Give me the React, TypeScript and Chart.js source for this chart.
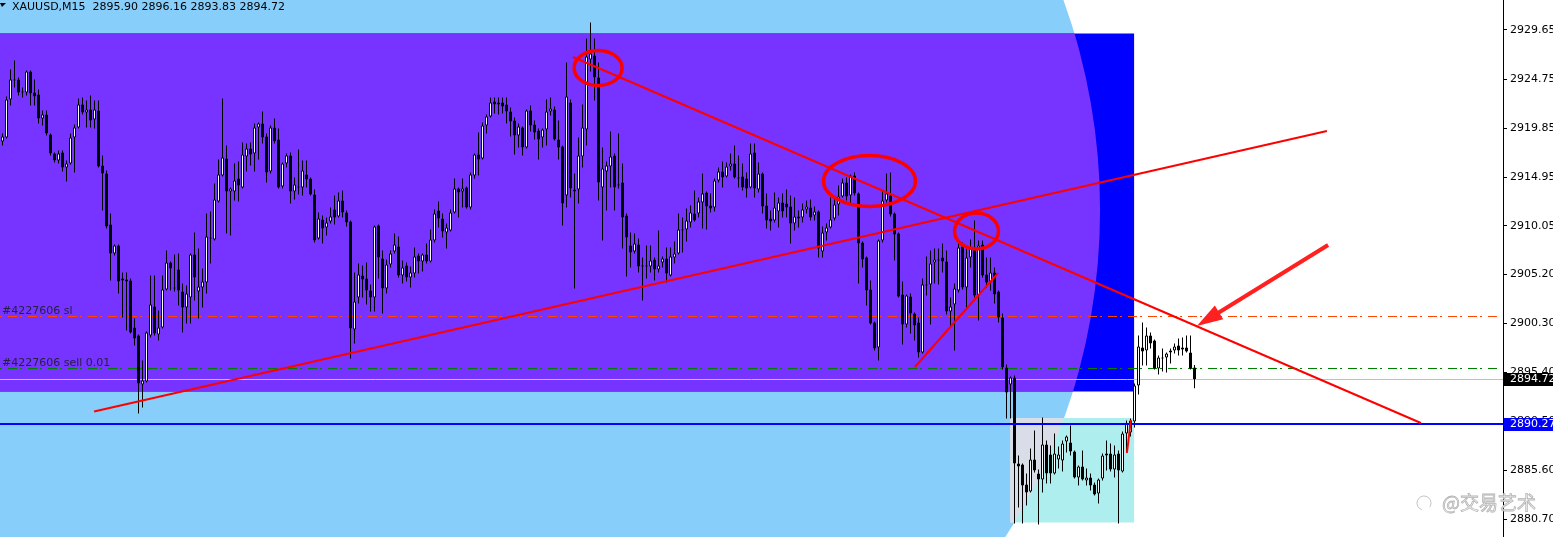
import { useEffect, useRef } from 'react';
import { Chart, registerables } from 'chart.js';

Chart.register(...registerables);

// ---- M15 candles (XAUUSD) ----
const OPEN = [
  2918.5, 2918.9, 2922.7, 2924.7, 2924.7, 2923.4, 2923.4, 2925.5, 2923.4, 2923.2,
  2920.8, 2921.2, 2919.2, 2917.3, 2916.6, 2917.4, 2915.9, 2916.3, 2918.9, 2919.9,
  2922.2, 2921.4, 2921.7, 2920.7, 2921.6, 2916.1, 2915.3, 2910.2, 2907.3, 2908.1,
  2904.8, 2904.7, 2904.6, 2899.9, 2899.1, 2894.2, 2894.5, 2899.1, 2902.0, 2899.2,
  2899.9, 2903.7, 2906.4, 2903.9, 2905.7, 2903.5, 2901.9, 2902.9, 2907.2, 2903.5,
  2903.9, 2904.4, 2908.9, 2908.7, 2912.5, 2915.1, 2916.8, 2913.5, 2913.5, 2914.8,
  2913.9, 2917.0, 2917.8, 2917.3, 2919.9, 2920.3, 2919.0, 2915.5, 2919.9, 2918.7,
  2914.0, 2916.3, 2917.1, 2913.5, 2914.0, 2913.9, 2915.2, 2914.8, 2913.2, 2908.8,
  2910.7, 2909.9, 2910.5, 2911.7, 2911.0, 2912.6, 2911.4, 2910.5, 2899.7, 2902.9,
  2905.1, 2904.8, 2903.6, 2902.9, 2910.1, 2906.8, 2903.8, 2906.2, 2907.5, 2908.0,
  2905.1, 2906.1, 2904.9, 2905.3, 2907.1, 2906.5, 2907.2, 2906.5, 2908.6, 2911.6,
  2910.8, 2909.4, 2909.6, 2911.4, 2913.8, 2913.5, 2913.9, 2911.9, 2915.1, 2917.2,
  2916.8, 2920.1, 2921.0, 2922.5, 2922.4, 2922.4, 2922.2, 2921.5, 2920.6, 2919.1,
  2919.9, 2917.9, 2921.6, 2920.2, 2919.6, 2918.9, 2919.7, 2921.5, 2921.7, 2918.7,
  2918.0, 2913.1, 2922.4, 2913.7, 2913.7, 2917.0, 2919.7, 2926.7, 2927.1, 2924.9,
  2913.9, 2915.5, 2916.0, 2917.1, 2914.2, 2914.4, 2911.1, 2908.1, 2907.5, 2908.2,
  2906.1, 2906.1, 2906.0, 2906.7, 2905.7, 2906.4, 2906.8, 2905.1, 2906.9, 2907.3,
  2909.7, 2909.7, 2910.4, 2911.3, 2911.3, 2912.4, 2913.4, 2912.1, 2911.9, 2914.6,
  2915.5, 2915.0, 2916.0, 2916.3, 2914.9, 2915.0, 2914.8, 2913.9, 2917.4, 2913.7,
  2915.3, 2912.1, 2910.8, 2910.6, 2911.5, 2912.4, 2912.3, 2912.0, 2910.3, 2911.0,
  2910.9, 2911.7, 2911.9, 2911.1, 2911.5, 2907.5, 2909.4, 2909.9, 2910.8, 2912.2,
  2913.0, 2914.4, 2913.1, 2915.1, 2913.3, 2908.4, 2906.9, 2903.7, 2900.4, 2897.9,
  2908.6, 2912.6, 2913.1, 2911.3, 2909.3, 2903.2, 2900.2, 2903.0, 2901.3, 2900.4,
  2897.4, 2904.2, 2904.2, 2906.4, 2906.7, 2906.9, 2906.5, 2901.5, 2902.2, 2903.6,
  2908.0, 2903.9, 2906.9, 2907.9, 2903.1, 2908.2, 2905.2, 2904.4, 2905.4, 2903.5,
  2900.9, 2895.9, 2894.2, 2894.9, 2886.3, 2886.2, 2884.2, 2883.5, 2886.7, 2885.3,
  2884.7, 2888.2, 2887.2, 2885.3, 2886.7, 2886.6, 2888.5, 2888.4, 2887.5, 2884.9,
  2886.0, 2884.6, 2884.9, 2884.2, 2883.3, 2884.8, 2887.3, 2887.3, 2885.7, 2887.3,
  2885.5, 2889.3, 2889.4, 2890.5, 2894.1, 2897.9, 2897.6, 2899.1, 2898.6, 2895.8,
  2896.8, 2896.9, 2897.4, 2897.6, 2898.1, 2897.7, 2897.9, 2897.4, 2895.90,
];
const HIGH = [
  2919.3, 2923.0, 2925.7, 2926.6, 2924.9, 2923.9, 2925.6, 2925.6, 2924.7, 2923.7,
  2921.6, 2921.6, 2919.3, 2917.4, 2917.6, 2917.6, 2916.6, 2919.3, 2920.2, 2922.8,
  2922.9, 2922.6, 2923.1, 2922.6, 2922.6, 2917.1, 2915.6, 2911.3, 2908.2, 2908.2,
  2905.4, 2905.4, 2904.8, 2900.8, 2899.2, 2896.6, 2899.5, 2905.1, 2905.1, 2901.6,
  2905.1, 2907.6, 2906.5, 2907.2, 2907.3, 2904.3, 2904.1, 2907.3, 2909.4, 2907.8,
  2905.8, 2911.3, 2911.5, 2914.3, 2916.7, 2922.8, 2918.1, 2913.9, 2916.3, 2916.5,
  2918.4, 2918.3, 2918.4, 2920.3, 2920.4, 2921.5, 2919.3, 2920.1, 2920.8, 2919.8,
  2916.4, 2917.3, 2917.4, 2914.9, 2917.7, 2916.6, 2916.6, 2914.9, 2913.7, 2911.4,
  2911.1, 2910.9, 2911.9, 2913.1, 2913.4, 2913.6, 2911.6, 2910.6, 2905.4, 2906.3,
  2906.1, 2906.4, 2904.2, 2910.1, 2910.2, 2907.6, 2906.7, 2907.6, 2909.3, 2909.0,
  2906.6, 2906.4, 2906.0, 2907.9, 2907.3, 2907.3, 2908.3, 2909.7, 2911.7, 2912.5,
  2911.3, 2910.3, 2911.7, 2914.8, 2913.9, 2914.8, 2914.0, 2915.4, 2917.3, 2919.4,
  2920.4, 2921.2, 2922.9, 2922.9, 2922.9, 2922.9, 2922.9, 2921.9, 2920.9, 2920.3,
  2920.0, 2921.7, 2922.1, 2920.6, 2919.8, 2919.8, 2922.7, 2922.9, 2922.0, 2920.6,
  2918.1, 2926.4, 2922.7, 2915.3, 2918.9, 2922.2, 2928.8, 2930.4, 2928.8, 2926.4,
  2917.9, 2916.5, 2919.5, 2917.3, 2919.3, 2916.3, 2911.3, 2909.4, 2909.3, 2908.8,
  2906.9, 2908.1, 2908.1, 2906.9, 2909.6, 2907.0, 2907.9, 2907.9, 2908.5, 2911.3,
  2910.9, 2911.8, 2912.1, 2913.6, 2912.9, 2915.3, 2913.5, 2913.3, 2914.8, 2915.9,
  2916.5, 2916.4, 2917.3, 2918.1, 2917.1, 2916.3, 2915.4, 2918.3, 2918.3, 2916.4,
  2915.4, 2913.3, 2911.6, 2913.4, 2912.9, 2913.3, 2913.7, 2913.1, 2912.9, 2911.6,
  2912.3, 2912.6, 2912.7, 2912.0, 2911.6, 2910.0, 2910.3, 2912.9, 2912.9, 2914.1,
  2914.8, 2914.9, 2915.2, 2915.4, 2913.4, 2908.5, 2907.0, 2904.6, 2900.5, 2908.7,
  2913.6, 2915.3, 2915.4, 2911.4, 2909.4, 2904.5, 2903.2, 2903.3, 2901.4, 2900.9,
  2904.8, 2907.0, 2907.6, 2907.8, 2907.8, 2908.3, 2907.6, 2902.9, 2904.3, 2908.3,
  2908.4, 2907.8, 2908.7, 2910.6, 2908.6, 2908.6, 2906.9, 2906.9, 2905.9, 2903.6,
  2901.3, 2896.2, 2895.0, 2895.1, 2887.1, 2886.3, 2885.3, 2887.8, 2889.6, 2885.7,
  2890.9, 2888.6, 2888.1, 2889.3, 2888.0, 2888.6, 2889.1, 2890.1, 2887.6, 2886.1,
  2887.6, 2885.8, 2885.3, 2884.4, 2884.8, 2887.3, 2888.6, 2888.3, 2888.1, 2887.6,
  2889.5, 2890.6, 2890.8, 2894.3, 2899.1, 2900.4, 2899.9, 2899.4, 2898.7, 2897.1,
  2897.8, 2897.4, 2897.8, 2898.3, 2898.8, 2898.9, 2899.1, 2899.1, 2896.16,
];
const LOW = [
  2918.1, 2918.8, 2922.1, 2923.9, 2923.1, 2922.9, 2923.1, 2922.1, 2922.1, 2920.3,
  2920.1, 2919.1, 2917.1, 2916.4, 2916.3, 2915.5, 2914.5, 2916.2, 2915.4, 2919.8,
  2921.2, 2919.9, 2919.9, 2919.8, 2915.9, 2911.6, 2909.8, 2904.6, 2907.1, 2903.3,
  2900.9, 2899.6, 2899.3, 2898.1, 2891.3, 2891.9, 2894.4, 2898.9, 2899.1, 2898.6,
  2899.8, 2903.6, 2903.6, 2903.5, 2902.1, 2899.4, 2900.3, 2900.3, 2902.6, 2900.8,
  2901.9, 2903.3, 2906.3, 2908.6, 2912.4, 2915.0, 2909.3, 2909.1, 2912.6, 2912.5,
  2913.8, 2915.5, 2916.1, 2915.5, 2916.7, 2918.3, 2914.4, 2915.3, 2918.3, 2913.8,
  2913.8, 2915.9, 2912.3, 2912.7, 2913.2, 2913.1, 2913.9, 2913.1, 2908.4, 2908.7,
  2908.3, 2909.1, 2910.3, 2910.2, 2910.9, 2910.9, 2910.0, 2896.8, 2898.3, 2902.3,
  2902.9, 2902.2, 2901.5, 2901.5, 2904.8, 2901.3, 2903.3, 2905.9, 2907.3, 2904.9,
  2904.3, 2904.5, 2903.9, 2904.9, 2905.3, 2905.5, 2906.3, 2906.4, 2908.4, 2909.9,
  2908.9, 2907.8, 2909.5, 2911.3, 2910.9, 2911.9, 2911.8, 2911.7, 2914.8, 2915.1,
  2916.7, 2919.3, 2920.9, 2921.3, 2921.2, 2921.3, 2920.3, 2919.0, 2917.2, 2917.9,
  2917.1, 2917.8, 2919.5, 2918.7, 2916.7, 2917.9, 2918.1, 2921.1, 2918.6, 2916.7,
  2910.1, 2911.9, 2912.9, 2903.8, 2912.3, 2915.9, 2918.1, 2925.5, 2922.6, 2912.6,
  2908.6, 2911.6, 2913.9, 2911.6, 2913.8, 2907.8, 2905.0, 2905.9, 2907.3, 2905.4,
  2902.6, 2904.8, 2905.4, 2904.6, 2905.4, 2905.9, 2904.4, 2905.0, 2906.3, 2907.2,
  2907.4, 2908.5, 2909.9, 2910.5, 2910.9, 2909.8, 2909.7, 2911.4, 2911.5, 2914.4,
  2913.9, 2914.9, 2915.6, 2914.8, 2913.9, 2913.6, 2912.9, 2913.8, 2912.9, 2913.4,
  2911.3, 2909.8, 2909.6, 2910.4, 2909.9, 2910.9, 2910.9, 2908.3, 2909.6, 2909.9,
  2910.4, 2911.3, 2910.6, 2910.6, 2906.9, 2906.9, 2908.6, 2909.8, 2910.6, 2911.1,
  2912.9, 2912.6, 2912.3, 2913.1, 2904.3, 2905.9, 2902.1, 2900.2, 2897.6, 2896.6,
  2908.4, 2912.4, 2911.0, 2906.6, 2902.9, 2898.2, 2899.9, 2899.3, 2898.6, 2896.9,
  2897.3, 2903.1, 2900.2, 2904.3, 2904.2, 2905.4, 2901.2, 2899.9, 2897.6, 2903.4,
  2903.7, 2901.9, 2905.9, 2902.9, 2900.6, 2904.9, 2903.9, 2903.6, 2902.3, 2900.4,
  2895.7, 2890.8, 2890.8, 2880.3, 2881.9, 2880.3, 2882.1, 2883.4, 2885.4, 2880.2,
  2883.4, 2884.3, 2884.3, 2885.2, 2885.8, 2885.5, 2887.4, 2887.1, 2884.8, 2884.1,
  2884.6, 2884.1, 2883.6, 2883.1, 2882.3, 2884.6, 2885.6, 2885.5, 2884.9, 2880.3,
  2885.4, 2887.4, 2889.0, 2889.9, 2893.2, 2896.1, 2896.1, 2897.8, 2895.7, 2895.2,
  2895.5, 2895.4, 2896.3, 2897.3, 2897.1, 2897.1, 2897.4, 2895.7, 2893.83,
];
const CLOSE = [
  2919.0, 2922.7, 2924.7, 2924.6, 2923.4, 2923.5, 2925.5, 2923.3, 2923.0, 2920.8,
  2921.2, 2919.3, 2917.3, 2916.6, 2917.3, 2915.9, 2916.3, 2918.9, 2919.9, 2922.2,
  2921.4, 2921.7, 2920.6, 2921.7, 2916.0, 2915.3, 2910.0, 2907.3, 2908.1, 2904.5,
  2904.6, 2904.5, 2899.4, 2898.8, 2894.3, 2894.6, 2899.4, 2902.2, 2899.3, 2899.9,
  2903.7, 2906.4, 2905.8, 2903.8, 2903.6, 2901.9, 2903.3, 2907.2, 2904.9, 2904.0,
  2904.5, 2909.0, 2908.8, 2912.7, 2915.2, 2916.9, 2913.5, 2913.8, 2914.6, 2914.1,
  2917.2, 2917.8, 2917.2, 2919.9, 2920.3, 2918.9, 2915.4, 2919.9, 2918.5, 2913.9,
  2916.3, 2917.1, 2913.5, 2914.2, 2913.9, 2915.6, 2914.7, 2913.2, 2908.6, 2910.8,
  2909.8, 2910.4, 2911.0, 2910.9, 2912.6, 2911.4, 2910.4, 2899.8, 2902.5, 2905.2,
  2904.7, 2903.6, 2902.9, 2910.0, 2906.9, 2903.8, 2906.2, 2907.3, 2908.2, 2905.1,
  2905.9, 2904.9, 2905.4, 2907.0, 2906.5, 2907.2, 2906.5, 2908.7, 2911.3, 2910.8,
  2909.5, 2909.9, 2911.4, 2913.8, 2913.4, 2913.8, 2911.9, 2915.2, 2917.2, 2916.7,
  2920.1, 2921.0, 2922.4, 2922.2, 2922.2, 2922.0, 2921.5, 2920.5, 2919.1, 2920.0,
  2917.9, 2921.6, 2920.1, 2919.4, 2918.7, 2919.7, 2921.5, 2921.8, 2918.7, 2917.9,
  2912.3, 2923.0, 2913.8, 2913.5, 2917.1, 2919.9, 2927.0, 2927.3, 2924.9, 2914.4,
  2915.8, 2916.1, 2917.0, 2913.9, 2914.1, 2910.9, 2908.9, 2907.4, 2908.3, 2906.0,
  2906.0, 2906.0, 2906.6, 2905.7, 2906.1, 2906.8, 2905.3, 2907.0, 2907.3, 2909.7,
  2909.6, 2910.6, 2911.4, 2910.6, 2912.5, 2913.3, 2912.0, 2911.8, 2914.6, 2915.5,
  2914.9, 2916.0, 2916.3, 2914.9, 2914.8, 2913.9, 2913.8, 2917.3, 2913.8, 2915.3,
  2912.0, 2910.6, 2910.5, 2911.9, 2912.4, 2911.5, 2911.9, 2910.3, 2911.0, 2910.8,
  2911.7, 2912.0, 2910.9, 2911.5, 2907.8, 2909.4, 2909.9, 2910.7, 2912.2, 2913.0,
  2914.4, 2913.0, 2915.1, 2913.3, 2908.3, 2906.7, 2903.6, 2900.3, 2897.8, 2908.6,
  2912.6, 2913.3, 2911.2, 2909.2, 2903.0, 2900.2, 2903.1, 2901.3, 2900.1, 2897.4,
  2904.2, 2904.1, 2906.3, 2906.7, 2906.6, 2906.5, 2901.5, 2902.0, 2903.8, 2907.9,
  2903.9, 2906.9, 2907.9, 2903.1, 2908.1, 2905.1, 2904.4, 2905.4, 2903.2, 2900.9,
  2895.9, 2893.4, 2894.9, 2886.3, 2886.0, 2884.1, 2883.4, 2886.7, 2885.6, 2884.7,
  2888.2, 2885.3, 2885.3, 2887.3, 2887.2, 2888.3, 2889.0, 2887.5, 2884.9, 2886.0,
  2884.7, 2884.9, 2884.1, 2883.2, 2884.7, 2887.1, 2887.1, 2885.7, 2887.2, 2885.6,
  2889.3, 2890.3, 2890.6, 2894.1, 2898.0, 2897.5, 2899.1, 2898.3, 2895.8, 2896.9,
  2896.9, 2897.3, 2897.6, 2898.0, 2897.6, 2897.9, 2897.5, 2895.8, 2894.72,
];

// ---- axis ----
const Y_TICKS = [2929.65, 2924.75, 2919.85, 2914.95, 2910.05, 2905.2, 2900.3, 2895.4, 2890.5, 2885.6, 2880.7];
const Y_MIN = 2878.95;
const Y_MAX = 2932.65;
const X_MIN = -0.625;
const X_MAX = 375.125;

// ---- header / levels ----
const SYMBOL = 'XAUUSD,M15';
const LAST_OHLC = ['2895.90', '2896.16', '2893.83', '2894.72'];
const BID_PRICE = 2894.72;
const BLUE_LEVEL = 2890.27;
const SL_PRICE = 2901.05;
const ENTRY_PRICE = 2895.85;
const SL_LABEL = '#4227606 sl';
const ENTRY_LABEL = '#4227606 sell 0.01';
const WATERMARK = '@交易艺术';

// ---- drawing objects (candle index, price) ----
const SKY_SHAPE = { idx: 153.9, price: 2911.65, rIdx: 120.5, rPrice: 54.9 };
const ZONE_BOX = { from: -2, to: 282.9, top: 2929.3, bottom: 2893.5 };
const LOW_BOX = { from: 251.9, to: 282.9, top: 2890.85, bottom: 2880.4 };
const TREND_LINES = [
  [[22.9, 2891.5], [331.1, 2919.55]],
  [[142.6, 2926.95], [354.6, 2890.35]],
  [[228.1, 2895.95], [248.9, 2905.35]],
  [[281.1, 2887.35], [282.1, 2890.65]],
];
const RINGS = [
  { idx: 148.9, price: 2925.85, rIdx: 6, rPrice: 1.75 },
  { idx: 216.75, price: 2914.55, rIdx: 11.5, rPrice: 2.55 },
  { idx: 243.5, price: 2909.55, rIdx: 5.5, rPrice: 1.8 },
];
const ARROW = { from: [331.4, 2908.15], to: [298.6, 2900.05] };

const FONT = '"DejaVu Sans", "Liberation Sans", sans-serif';

const mt4Plugin = {
  id: 'mt4Objects',
  beforeDatasetsDraw(chart: any) {
    const { ctx, chartArea: a, scales } = chart;
    const x = scales.x, y = scales.y;
    const px = (v: number) => x.getPixelForValue(v);
    const py = (v: number) => y.getPixelForValue(v);
    const skyPath = () => {
      const cx = px(SKY_SHAPE.idx), cy = py(SKY_SHAPE.price);
      const rx = px(SKY_SHAPE.idx + SKY_SHAPE.rIdx) - cx;
      const ry = cy - py(SKY_SHAPE.price + SKY_SHAPE.rPrice);
      ctx.beginPath();
      ctx.rect(a.left - 2, a.top - 2, cx - a.left + 2, a.bottom - a.top + 4);
      ctx.ellipse(cx, cy, rx, ry, 0, 0, Math.PI * 2);
    };
    const boxRect = (b: any) => {
      const x0 = px(b.from), x1 = px(b.to), y0 = py(b.top), y1 = py(b.bottom);
      return [x0, y0, x1 - x0, y1 - y0];
    };
    ctx.save();
    ctx.beginPath();
    ctx.rect(a.left, a.top, a.right - a.left, a.bottom - a.top);
    ctx.clip();
    skyPath();
    ctx.fillStyle = '#87CEFA';
    ctx.fill();
    const zr = boxRect(ZONE_BOX);
    ctx.fillStyle = '#0000FF';
    ctx.fillRect(zr[0], zr[1], zr[2], zr[3]);
    ctx.save();
    ctx.beginPath();
    ctx.rect(zr[0], zr[1], zr[2], zr[3]);
    ctx.clip();
    skyPath();
    ctx.fillStyle = '#7733FF';
    ctx.fill();
    ctx.restore();
    const lr = boxRect(LOW_BOX);
    ctx.fillStyle = '#AFEEEE';
    ctx.fillRect(lr[0], lr[1], lr[2], lr[3]);
    ctx.save();
    ctx.beginPath();
    ctx.rect(lr[0], lr[1], lr[2], lr[3]);
    ctx.clip();
    skyPath();
    ctx.fillStyle = '#D8DDE8';
    ctx.fill();
    ctx.restore();
    ctx.strokeStyle = '#C0C0C0';
    ctx.lineWidth = 1;
    const by = Math.round(py(BID_PRICE)) + 0.5;
    ctx.beginPath();
    ctx.moveTo(a.left, by);
    ctx.lineTo(a.right, by);
    ctx.stroke();
    const dashLine = (price: number, color: string) => {
      const yy = Math.round(py(price)) + 0.5;
      ctx.save();
      ctx.strokeStyle = color;
      ctx.lineWidth = 1;
      ctx.setLineDash([2, 6, 9, 3]);
      ctx.beginPath();
      ctx.moveTo(a.left, yy);
      ctx.lineTo(a.right - 3, yy);
      ctx.stroke();
      ctx.restore();
    };
    dashLine(SL_PRICE, '#FF4500');
    dashLine(ENTRY_PRICE, '#008000');
    ctx.restore();
  },
  afterDatasetsDraw(chart: any) {
    const { ctx, chartArea: a, scales } = chart;
    const x = scales.x, y = scales.y;
    const px = (v: number) => x.getPixelForValue(v);
    const py = (v: number) => y.getPixelForValue(v);
    ctx.save();
    ctx.beginPath();
    ctx.rect(a.left, a.top, a.right - a.left, a.bottom - a.top);
    ctx.clip();
    ctx.strokeStyle = '#0000FF';
    ctx.lineWidth = 2;
    const ly = Math.round(py(BLUE_LEVEL));
    ctx.beginPath();
    ctx.moveTo(a.left, ly);
    ctx.lineTo(a.right, ly);
    ctx.stroke();
    ctx.strokeStyle = '#FF0000';
    ctx.lineWidth = 2;
    TREND_LINES.forEach((ln) => {
      ctx.beginPath();
      ctx.moveTo(px(ln[0][0]), py(ln[0][1]));
      ctx.lineTo(px(ln[1][0]), py(ln[1][1]));
      ctx.stroke();
    });
    ctx.lineWidth = 3.5;
    RINGS.forEach((r) => {
      const cx = px(r.idx), cy = py(r.price);
      const rx = px(r.idx + r.rIdx) - cx;
      const ry = cy - py(r.price + r.rPrice);
      ctx.beginPath();
      ctx.ellipse(cx, cy, rx, ry, 0, 0, Math.PI * 2);
      ctx.stroke();
    });
    const tx = px(ARROW.from[0]), ty = py(ARROW.from[1]);
    const hx = px(ARROW.to[0]), hy = py(ARROW.to[1]);
    const dx = hx - tx, dy = hy - ty;
    const len = Math.hypot(dx, dy);
    const ux = dx / len, uy = dy / len;
    const headLen = 26, headHalf = 8;
    const bx = hx - ux * headLen, byy = hy - uy * headLen;
    ctx.fillStyle = '#FF2020';
    ctx.strokeStyle = '#FF2020';
    ctx.lineWidth = 4;
    ctx.beginPath();
    ctx.moveTo(tx, ty);
    ctx.lineTo(bx + ux * 4, byy + uy * 4);
    ctx.stroke();
    ctx.beginPath();
    ctx.moveTo(hx, hy);
    ctx.lineTo(bx - uy * headHalf, byy + ux * headHalf);
    ctx.lineTo(bx + uy * headHalf, byy - ux * headHalf);
    ctx.closePath();
    ctx.fill();
    ctx.font = '11px ' + FONT;
    ctx.fillStyle = '#262044';
    ctx.textBaseline = 'alphabetic';
    ctx.textAlign = 'left';
    ctx.fillText(SL_LABEL, a.left + 2, Math.round(py(SL_PRICE)) - 2);
    ctx.fillText(ENTRY_LABEL, a.left + 2, Math.round(py(ENTRY_PRICE)) - 2);
    ctx.restore();
  },
  afterDraw(chart: any) {
    const { ctx, chartArea: a, scales } = chart;
    const y = scales.y;
    const py = (v: number) => y.getPixelForValue(v);
    ctx.save();
    const box = (price: number, bg: string) => {
      const cy = py(price);
      ctx.fillStyle = bg;
      ctx.fillRect(a.right + 1, Math.round(cy) - 6, 52, 13);
      ctx.fillStyle = '#FFFFFF';
      ctx.font = '11px ' + FONT;
      ctx.textBaseline = 'middle';
      ctx.textAlign = 'left';
      ctx.fillText(price.toFixed(2), a.right + 7, Math.round(cy) + 0.5);
    };
    box(BID_PRICE, '#000000');
    box(BLUE_LEVEL, '#0000FF');
    ctx.fillStyle = '#000000';
    ctx.beginPath();
    ctx.moveTo(0, 3);
    ctx.lineTo(6, 3);
    ctx.lineTo(2, 7);
    ctx.closePath();
    ctx.fill();
    ctx.font = '11px ' + FONT;
    ctx.textBaseline = 'alphabetic';
    ctx.textAlign = 'left';
    ctx.fillText(SYMBOL + '  ' + LAST_OHLC.join(' '), 12, 10);
    ctx.font = '19px "Noto Sans CJK SC", sans-serif';
    ctx.lineWidth = 0.8;
    ctx.strokeStyle = '#b4b4b4';
    ctx.fillStyle = '#f4f4f4';
    ctx.fillText(WATERMARK, 1442, 510);
    ctx.strokeText(WATERMARK, 1442, 510);
    ctx.beginPath();
    ctx.arc(1424, 503, 7, Math.PI * 0.6, Math.PI * 2.2);
    ctx.stroke();
    ctx.restore();
  },
};

export default function App() {
  const ref = useRef<HTMLCanvasElement>(null);
  useEffect(() => {
    const canvas = ref.current;
    if (!canvas) return;
    const idx = OPEN.map((_, i) => i);
    const bodies = idx.map((i) => ({ x: i, y: [Math.min(OPEN[i], CLOSE[i]), Math.max(OPEN[i], CLOSE[i])] }));
    const wicks = idx.map((i) => ({ x: i, y: [LOW[i], HIGH[i]] }));
    const fills = idx.map((i) => (CLOSE[i] > OPEN[i] ? '#FFFFFF' : '#000000'));
    const chart = new Chart(canvas, {
      type: 'bar',
      data: {
        datasets: [
          {
            data: bodies as any,
            backgroundColor: fills,
            borderColor: '#000000',
            borderWidth: 1,
            borderSkipped: false,
            barThickness: 3,
            grouped: false,
            inflateAmount: 0,
            order: 0,
          } as any,
          {
            data: wicks as any,
            backgroundColor: '#000000',
            borderWidth: 0,
            barThickness: 1,
            grouped: false,
            inflateAmount: 0,
            order: 1,
          } as any,
        ],
      },
      options: {
        animation: false,
        responsive: false,
        devicePixelRatio: 1,
        events: [],
        layout: { padding: 0 },
        plugins: { legend: { display: false }, tooltip: { enabled: false }, title: { display: false } },
        scales: {
          x: { type: 'linear', min: X_MIN, max: X_MAX, display: false, offset: false, grid: { display: false } },
          y: {
            type: 'linear',
            position: 'right',
            min: Y_MIN,
            max: Y_MAX,
            afterBuildTicks: (s: any) => {
              s.ticks = Y_TICKS.map((v) => ({ value: v }));
            },
            afterFit: (s: any) => {
              s.width = 50;
              s.paddingTop = 0;
              s.paddingBottom = 0;
            },
            grid: { drawOnChartArea: false, drawTicks: true, tickLength: 4, color: '#000000' },
            border: { display: true, color: '#000000', width: 1 },
            ticks: {
              padding: 3,
              color: '#000000',
              autoSkip: false,
              maxRotation: 0,
              minRotation: 0,
              font: { family: 'DejaVu Sans', size: 11 },
              callback: (v: any) => Number(v).toFixed(2),
            },
          } as any,
        },
      } as any,
      plugins: [mt4Plugin],
    });
    return () => chart.destroy();
  }, []);
  return (
    <div style={{ position: 'fixed', left: 0, top: 0, width: 1553, height: 537, background: '#FFFFFF' }}>
      <canvas ref={ref} width={1553} height={537} style={{ display: 'block', width: 1553, height: 537 }} />
    </div>
  );
}
